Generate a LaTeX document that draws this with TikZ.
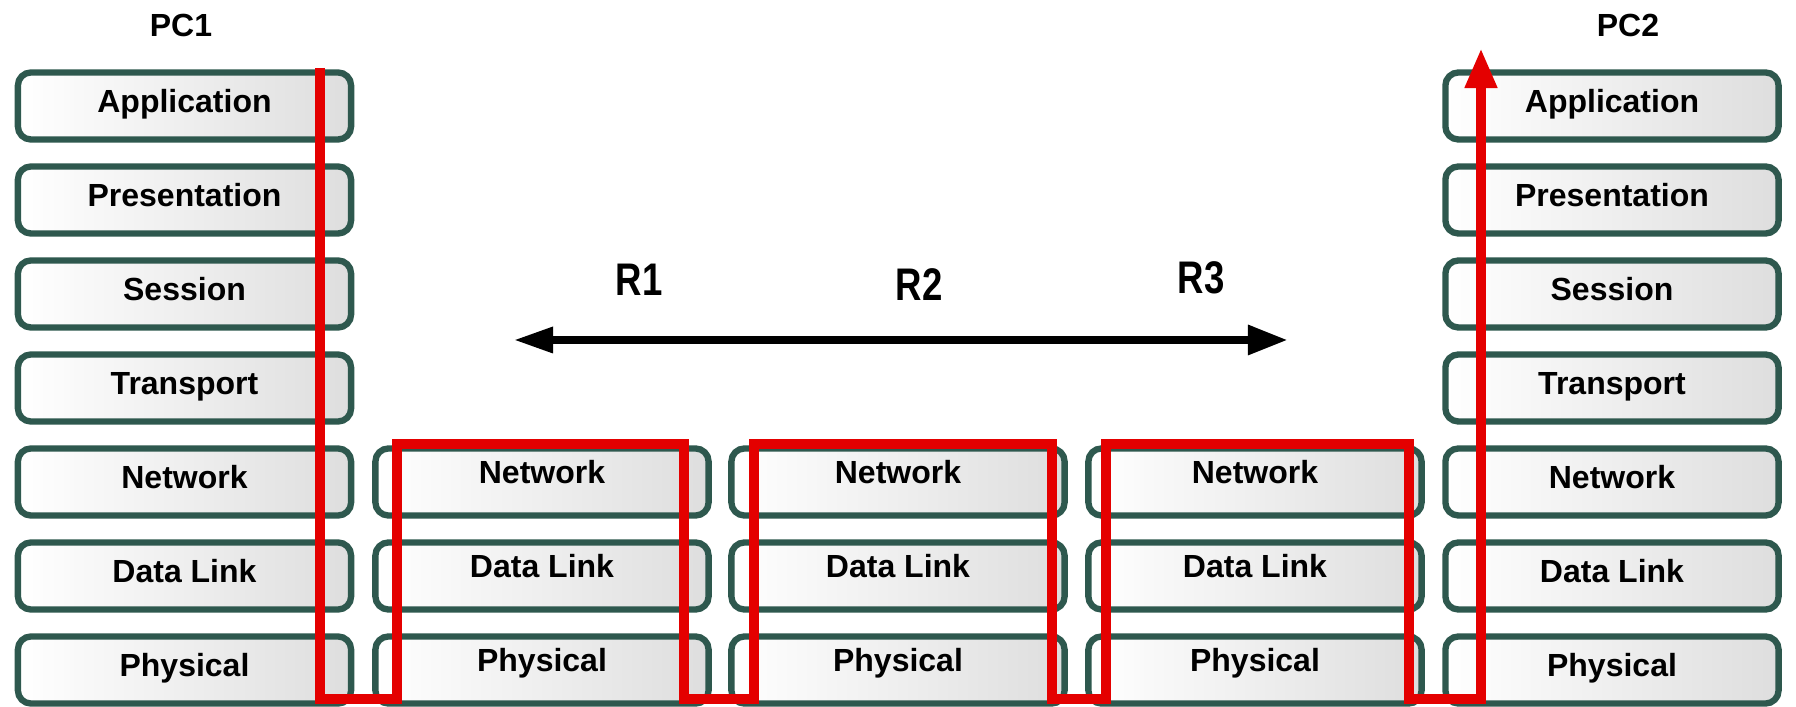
\documentclass[tikz,border=0pt]{standalone}
\usepackage{fontspec}
\setmainfont{Liberation Sans}
\newfontfamily\narrowsf{Liberation Sans}[FakeStretch=0.8]
\usepackage{tikz}
\usetikzlibrary{arrows.meta,positioning}
\definecolor{layerc}{RGB}{46,88,78}
\definecolor{routec}{RGB}{228,0,0}

\begin{document}
\begin{tikzpicture}[x=0.01cm, y=-0.01cm,
    layer/.style={draw=layerc, line width=1.8pt, rounded corners=0.13cm, left color=white, right color=black!13,
      minimum width=3.33cm, minimum height=0.67cm, inner sep=0pt, text height=0.23cm, text depth=0.10cm,
      font=\bfseries\fontsize{9.1}{10}\selectfont},
    hop/.style={layer, text depth=0.20cm},
    host/.style={font=\bfseries\fontsize{9.1}{10}\selectfont},
    router/.style={font=\narrowsf\bfseries\fontsize{13}{14}\selectfont},
    route/.style={draw=routec, line width=2.9pt, line join=miter},
    link/.style={line width=2.5pt}]
  \fill[white] (0,0) rectangle (1796,707);
  \useasboundingbox (0,0) rectangle (1796,707);
  \foreach \lab [count=\i] in {Application,Presentation,Session,Transport,Network,Data Link,Physical}{
    \node[layer] (pc1-\i) at (184.5,{12+94*\i}) {\lab};
    \node[layer] (pc2-\i) at (1612,{12+94*\i}) {\lab};
  }
  \foreach \lab [count=\i from 5] in {Network,Data Link,Physical}
    \foreach \c/\x in {r1/542,r2/898,r3/1255}
      \node[hop] (\c-\i) at (\x,{12+94*\i}) {\lab};
  \node[host] (pc1) at (181,25) {PC1};
  \node[host] (pc2) at (1628,25) {PC2};
  \node[router] (r1) at (639,280) {R1};
  \node[router] (r2) at (919,285) {R2};
  \node[router] (r3) at (1201,278) {R3};
  \coordinate (lnk-l) at (513,340);
  \coordinate (lnk-r) at (1288,340);
  \draw[link, {Triangle[length=0.4cm,width=0.24cm]}-{Triangle[length=0.4cm,width=0.28cm]}] (lnk-l) -- (lnk-r);
  \coordinate (src) at (320,68);
  \coordinate (dst) at (1481,48);
  \draw[route, -{Triangle[length=0.4cm,width=0.3cm]}] (src) |- (397,699) |- (684,444) |- (754,699) |- (1052,444)
    |- (1106,699) |- (1409,444) |- (1481,699) -- (dst);
\end{tikzpicture}
\end{document}
